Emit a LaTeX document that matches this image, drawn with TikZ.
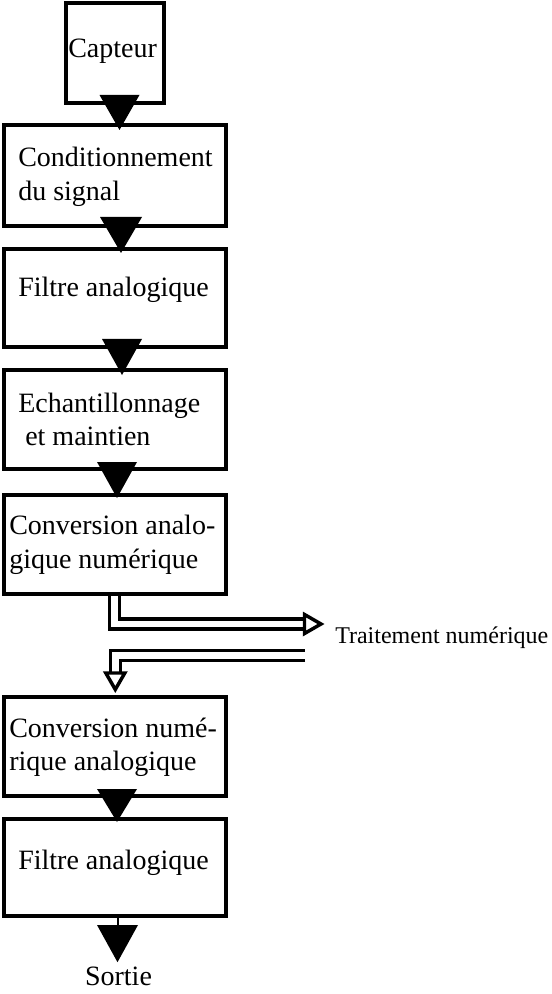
\documentclass[tikz,border=0pt]{standalone}
\usepackage{fontspec}
\setmainfont{Liberation Serif}
\usetikzlibrary{calc}
\begin{document}
\begin{tikzpicture}[x=0.75pt,y=-0.75pt,
  box/.style={draw, line width=3pt, minimum width=166.5pt, minimum height=74.25pt, inner sep=0pt, anchor=center},
  lbl/.style={anchor=base west, inner sep=0pt, font=\fontsize{21pt}{24pt}\selectfont},
  tri/.style={fill=black},
  dbl/.style={double, double distance=4.9pt, line width=2.6pt},
  head/.style={draw, fill=white, line width=2.6pt, line join=miter}]
\useasboundingbox (0,0) rectangle (552,994);

% boxes
\node[box, minimum width=73.5pt, minimum height=75pt] (cap) at (115,53) {};
\node[box, minimum height=75.75pt] (cond) at (115,175.5) {};
\node[box, minimum height=73.5pt] (filt1) at (115,298) {};
\node[box] (ech) at (115,419.5) {};
\node[box] (can) at (115,544.5) {};
\node[box] (cna) at (115,746.5) {};
\node[box, minimum height=72.75pt] (filt2) at (115,867.5) {};

% texts
\node[lbl] (capt) at (68,58) {Capteur};
\node[lbl] (condt1) at (18,167) {Conditionnement};
\node[lbl] (condt2) at (18,201) {du signal};
\node[lbl] (filt1t) at (18,297) {Filtre analogique};
\node[lbl] (echt1) at (18,412) {Echantillonnage};
\node[lbl] (echt2) at (18,445) {\ et maintien};
\node[lbl] (cant1) at (9,534) {Conversion analo-};
\node[lbl] (cant2) at (9,568) {gique numérique};
\node[lbl] (cnat1) at (9,737) {Conversion numé-};
\node[lbl] (cnat2) at (9,770) {rique analogique};
\node[lbl] (filt2t) at (18,869) {Filtre analogique};
\node[lbl, anchor=base] (sortie) at (118.5,985) {Sortie};
\node[anchor=base west, inner sep=0pt, font=\fontsize{18pt}{21pt}\selectfont] (trait) at (335,643) {Traitement numérique};

% filled triangles
\coordinate (t1) at ($(cap.south)+(4.5,-10)$);
\coordinate (a1) at ($(cond.north)+(4.5,7)$);
\fill[tri] ($(t1)+(-20,0)$) -- ($(t1)+(20,0)$) -- (a1) -- cycle;
\coordinate (t2) at ($(cond.south)+(6,-11)$);
\coordinate (a2) at ($(filt1.north)+(6,6)$);
\fill[tri] ($(t2)+(-21,0)$) -- ($(t2)+(21,0)$) -- (a2) -- cycle;
\coordinate (t3) at ($(filt1.south)+(7,-10)$);
\coordinate (a3) at ($(ech.north)+(7,7)$);
\fill[tri] ($(t3)+(-20,0)$) -- ($(t3)+(20,0)$) -- (a3) -- cycle;
\coordinate (t4) at ($(ech.south)+(2,-9)$);
\coordinate (a4) at ($(can.north)+(2,5)$);
\fill[tri] ($(t4)+(-20,0)$) -- ($(t4)+(20,0)$) -- (a4) -- cycle;
\coordinate (t5) at ($(cna.south)+(2,-9)$);
\coordinate (a5) at ($(filt2.north)+(2,5)$);
\fill[tri] ($(t5)+(-20,0)$) -- ($(t5)+(20,0)$) -- (a5) -- cycle;
\coordinate (t6) at ($(filt2.south)+(2.5,7)$);
\coordinate (a6) at ($(sortie.north)+(-1,-4)$);
\draw[line width=1.5pt] ($(filt2.south)+(2.5,0)$) -- (t6);
\fill[tri] ($(t6)+(-20.5,0)$) -- ($(t6)+(20.5,0)$) -- (a6) -- cycle;

% double arrow to digital processing
\coordinate (s1) at ($(can.south)+(-0.7,0)$);
\coordinate (h1) at (304.5,624);
\draw[dbl] (s1) |- (h1);
\draw[head] ($(h1)+(0,-9.5)$) -- ($(h1)+(0,9.5)$) -- ($(h1)+(16.5,0)$) -- cycle;

% double arrow back from digital processing
\coordinate (r2) at (305,655.3);
\coordinate (h2) at ($(cna.north)+(0.3,-22)$);
\draw[dbl] (r2) -| (h2);
\draw[head] ($(h2)+(-9.5,0)$) -- ($(h2)+(9.5,0)$) -- ($(h2)+(0,16.5)$) -- cycle;
\end{tikzpicture}
\end{document}
